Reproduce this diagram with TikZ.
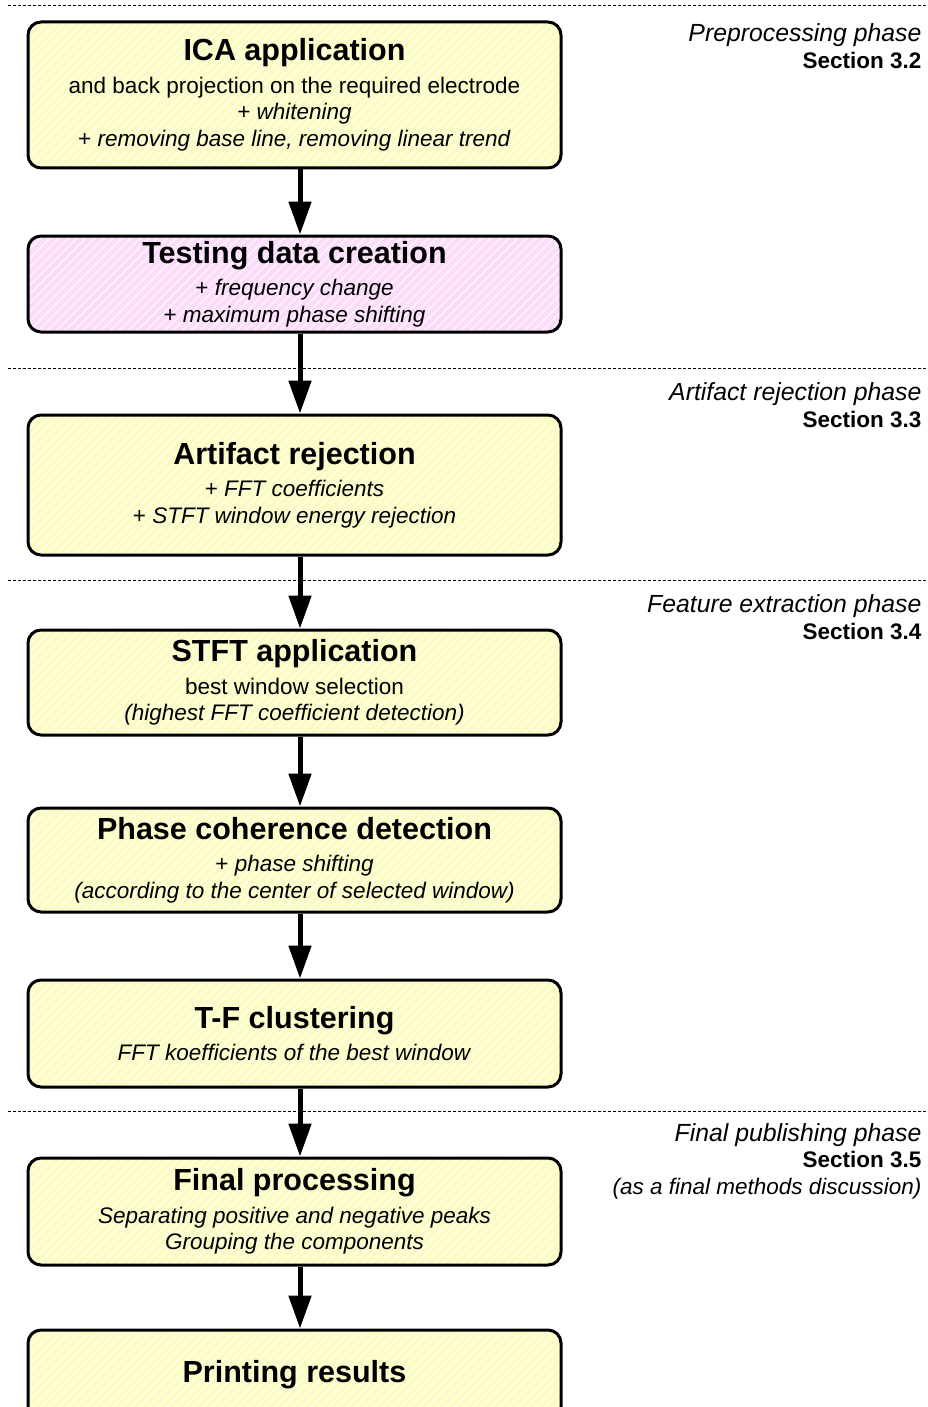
\documentclass[tikz,border=0pt]{standalone}
\usepackage{fontspec}
\setmainfont{Liberation Sans}
\usetikzlibrary{arrows.meta,calc}

\definecolor{boxyellow}{HTML}{FBFBC2}
\definecolor{boxpink}{HTML}{FBDCFB}

\newcommand{\ttl}[1]{{\fontsize{30.5}{30.5}\selectfont\bfseries #1}\\[6pt]}
\newcommand{\phasename}[1]{{\fontsize{24.8}{26.5}\selectfont\itshape #1}}

\tikzset{
  stage/.style={
    draw=black, line width=3pt, rounded corners=13pt,
    fill=boxyellow, minimum width=533pt, inner sep=0pt,
    align=center, font=\fontsize{22.5}{26.5}\selectfont,
    path picture={
      \foreach \i in {-18,...,62}
        \draw[white, line width=1.6pt, opacity=.65]
          ($(path picture bounding box.south west)+(\i*9pt,0)$) -- ++(170pt,170pt);
    }
  },
  pinkstage/.style={stage, fill=boxpink},
  flow/.style={line width=5pt, -{Triangle[length=33pt,width=22pt]}},
  phaseline/.style={line width=1pt, dash pattern=on 3pt off 2pt},
  phaselabel/.style={anchor=east, align=right, font=\fontsize{22.5}{26.5}\selectfont}
}

\begin{document}
\begin{tikzpicture}[x=1pt,y=-1pt]
  \useasboundingbox (0,0) rectangle (928,1407);
  \clip (0,0) rectangle (928,1407);

  % phase separators
  \coordinate (s1l) at (8,6);    \coordinate (s1r) at (928,6);
  \coordinate (s2l) at (8,368);  \coordinate (s2r) at (928,368);
  \coordinate (s3l) at (8,580);  \coordinate (s3r) at (928,580);
  \coordinate (s4l) at (8,1111); \coordinate (s4r) at (928,1111);
  \draw[phaseline] (s1l) -- (s1r);
  \draw[phaseline] (s2l) -- (s2r);
  \draw[phaseline] (s3l) -- (s3r);
  \draw[phaseline] (s4l) -- (s4r);

  % phase labels
  \node[phaselabel] (p1) at (925,46) {\phasename{Preprocessing phase}\\\bfseries Section 3.2};
  \node[phaselabel] (p2) at (925,405) {\phasename{Artifact rejection phase}\\\bfseries Section 3.3};
  \node[phaselabel] (p3) at (925,617) {\phasename{Feature extraction phase}\\\bfseries Section 3.4};
  \node[phaselabel] (p4) at (925,1161) {\phasename{Final publishing phase}\\\bfseries Section 3.5\\\itshape (as a final methods discussion)};

  % processing stages
  \node[stage, minimum height=146pt] (b1) at (294.5,95)
    {\ttl{ICA application}and back projection on the required electrode\\+ \textit{whitening}\\+ \textit{removing base line, removing linear trend}};
  \node[pinkstage, minimum height=96pt] (b2) at (294.5,284)
    {\ttl{Testing data creation}+ \textit{frequency change}\\+ \textit{maximum phase shifting}};
  \node[stage, minimum height=140pt] (b3) at (294.5,485)
    {\ttl{Artifact rejection}+ \textit{FFT coefficients}\\+ \textit{STFT window energy rejection}};
  \node[stage, minimum height=105pt] (b4) at (294.5,682.5)
    {\ttl{STFT application}best window selection\\\textit{(highest FFT coefficient detection)}};
  \node[stage, minimum height=104pt] (b5) at (294.5,860)
    {\ttl{Phase coherence detection}+ \textit{phase shifting}\\\textit{(according to the center of selected window)}};
  \node[stage, minimum height=107pt] (b6) at (294.5,1033.5)
    {\ttl{T-F clustering}\textit{FFT koefficients of the best window}};
  \node[stage, minimum height=107pt] (b7) at (294.5,1211.5)
    {\ttl{Final processing}\textit{Separating positive and negative peaks}\\\textit{Grouping the components}};
  \node[stage, minimum height=90pt] (b8) at (294.5,1375)
    {{\fontsize{30.5}{30.5}\selectfont\bfseries Printing results}};

  % flow arrows
  \foreach \a/\b in {b1/b2,b2/b3,b3/b4,b4/b5,b5/b6,b6/b7,b7/b8}
    \draw[flow] ($(\a.south)+(5.5,0)$) -- ($(\b.north)+(5.5,0)$);
\end{tikzpicture}
\end{document}
